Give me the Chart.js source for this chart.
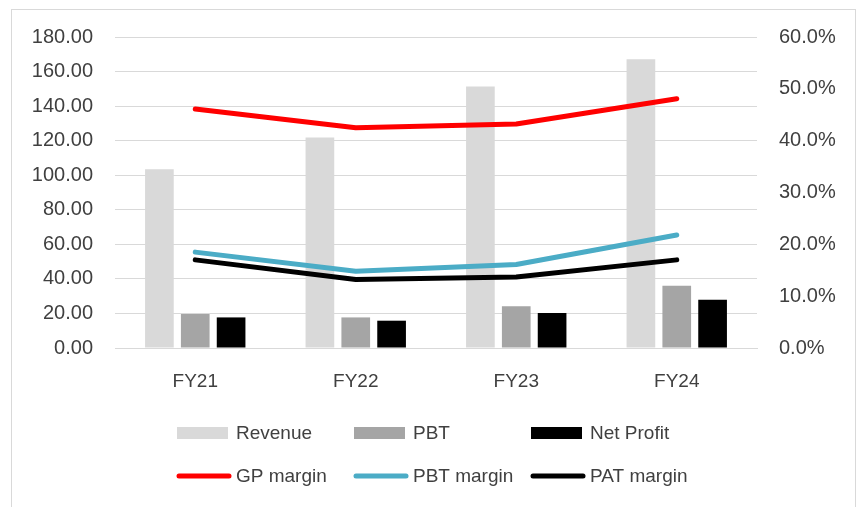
<!DOCTYPE html>
<html>
<head>
<meta charset="utf-8">
<script src="https://cdn.jsdelivr.net/npm/chart.js@4/dist/chart.umd.min.js"></script>
<style>
  html, body { margin: 0; padding: 0; background: #fff; }
  #wrap { position: relative; width: 859px; height: 507px; }
</style>
</head>
<body>
<div id="wrap"><canvas id="c" width="859" height="507"></canvas></div>
<script>
// Financial summary by fiscal year
const categories = ['FY21', 'FY22', 'FY23', 'FY24'];

// Amounts (left axis)
const revenue   = [103.5, 121.8, 151.3, 167.1];
const pbt       = [19.7, 17.7, 24.1, 36.0];
const netProfit = [17.7, 15.8, 20.2, 27.9];

// Margins in percent (right axis)
const gpMargin  = [46.1, 42.5, 43.2, 48.1];
const pbtMargin = [18.5, 14.8, 16.1, 21.8];
const patMargin = [17.0, 13.2, 13.7, 17.0];

// Axis ranges
const amountTicks = { min: 0, max: 180, step: 20 };
const marginTicks = { min: 0, max: 60, step: 10 };

const FONT = 'Liberation Sans';
const TEXT = '#404040';
const GRID = '#D9D9D9';

// Outer frame around the chart (open at the bottom edge of the page)
const framePlugin = {
  id: 'frame',
  beforeDraw(chart) {
    const ctx = chart.ctx;
    ctx.save();
    ctx.fillStyle = '#fff';
    ctx.fillRect(0, 0, chart.width, chart.height);
    ctx.strokeStyle = GRID;
    ctx.lineWidth = 1;
    ctx.strokeRect(11.5, 9.5, 844, 510);
    ctx.restore();
  }
};

// Two-row legend: bars on the first row, margin lines on the second
const legendPlugin = {
  id: 'gridLegend',
  afterDraw(chart) {
    const ctx = chart.ctx;
    const cols = [177, 354, 531];
    const rows = [433, 476];
    ctx.save();
    ctx.font = '19px "' + FONT + '"';
    ctx.textBaseline = 'middle';
    ctx.textAlign = 'left';
    chart.data.datasets.forEach((ds) => {
      const isBar = ds.type === 'bar';
      const group = chart.data.datasets.filter(d => d.type === ds.type);
      const x = cols[group.indexOf(ds)];
      const y = rows[isBar ? 0 : 1];
      if (isBar) {
        ctx.fillStyle = ds.backgroundColor;
        ctx.fillRect(x, y - 6, 51, 12);
      } else {
        ctx.strokeStyle = ds.borderColor;
        ctx.lineWidth = 5;
        ctx.lineCap = 'round';
        ctx.beginPath();
        ctx.moveTo(x + 2, y);
        ctx.lineTo(x + 52, y);
        ctx.stroke();
      }
      ctx.fillStyle = TEXT;
      ctx.fillText(ds.label, x + 59, y + 1);
    });
    ctx.restore();
  }
};

const lineStyle = {
  type: 'line',
  yAxisID: 'y1',
  borderWidth: 5,
  borderCapStyle: 'round',
  borderJoinStyle: 'round',
  pointRadius: 0,
  pointHoverRadius: 0,
  tension: 0,
  fill: false,
  order: 0
};

const barStyle = {
  type: 'bar',
  yAxisID: 'y',
  categoryPercentage: 0.67,
  barPercentage: 0.8,
  order: 1
};

new Chart(document.getElementById('c'), {
  data: {
    labels: categories,
    datasets: [
      Object.assign({ label: 'Revenue', data: revenue, backgroundColor: '#D9D9D9' }, barStyle),
      Object.assign({ label: 'PBT', data: pbt, backgroundColor: '#A5A5A5' }, barStyle),
      Object.assign({ label: 'Net Profit', data: netProfit, backgroundColor: '#000000' }, barStyle),
      Object.assign({ label: 'GP margin', data: gpMargin, borderColor: '#FF0000', backgroundColor: '#FF0000' }, lineStyle),
      Object.assign({ label: 'PBT margin', data: pbtMargin, borderColor: '#4BACC6', backgroundColor: '#4BACC6' }, lineStyle),
      Object.assign({ label: 'PAT margin', data: patMargin, borderColor: '#000000', backgroundColor: '#000000' }, lineStyle)
    ]
  },
  options: {
    responsive: false,
    animation: false,
    events: [],
    layout: { padding: { top: 37, left: 0, right: 0, bottom: 0 } },
    plugins: {
      legend: { display: false },
      tooltip: { enabled: false }
    },
    scales: {
      x: {
        grid: { display: false, drawTicks: false },
        border: { display: true, color: GRID, width: 1 },
        ticks: { color: TEXT, font: { family: FONT, size: 19 }, padding: 22 },
        afterFit(s) { s.height = 159; }
      },
      y: {
        position: 'left',
        min: amountTicks.min,
        max: amountTicks.max,
        grid: { color: GRID, lineWidth: 1, drawTicks: false },
        border: { display: false },
        ticks: {
          stepSize: amountTicks.step,
          color: TEXT,
          font: { family: FONT, size: 20 },
          padding: 22,
          callback: v => v.toFixed(2)
        },
        afterFit(s) { s.width = 115; }
      },
      y1: {
        position: 'right',
        min: marginTicks.min,
        max: marginTicks.max,
        grid: { display: false, drawTicks: false },
        border: { display: false },
        ticks: {
          stepSize: marginTicks.step,
          color: TEXT,
          font: { family: FONT, size: 20 },
          padding: 22,
          callback: v => v.toFixed(1) + '%'
        },
        afterFit(s) { s.width = 102; }
      }
    }
  },
  plugins: [framePlugin, legendPlugin]
});
</script>
</body>
</html>
